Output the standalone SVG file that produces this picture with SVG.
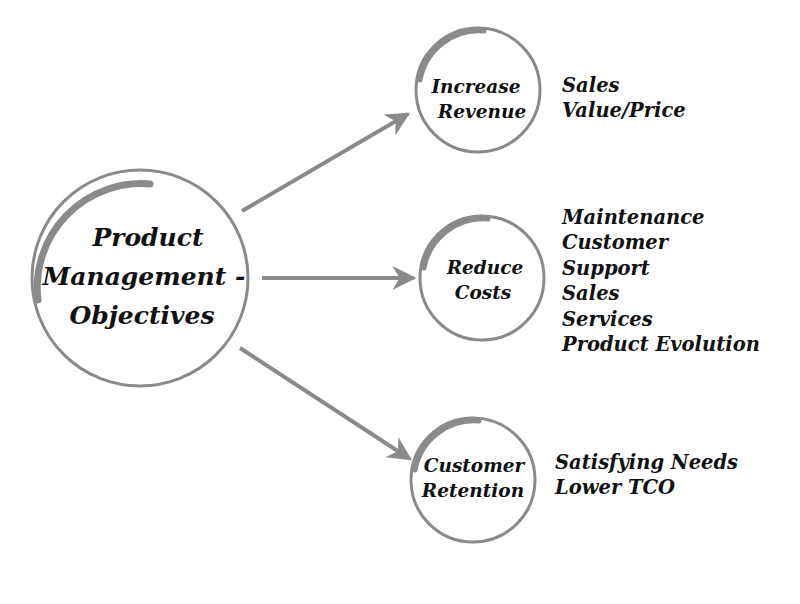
<svg xmlns="http://www.w3.org/2000/svg" width="800" height="604" viewBox="0 0 800 604">
<style>
.ring{fill:none;stroke:#8a8a8a;stroke-width:3}
.arc{fill:none;stroke:#8a8a8a;stroke-linecap:round}
.t{font-family:"DejaVu Serif",serif;font-style:italic;font-weight:bold;fill:#111}
.c{stroke:#8a8a8a;stroke-width:4;fill:none}
</style>
<defs>
<marker id="ah" viewBox="0 0 10 10" refX="9" refY="5" markerWidth="7" markerHeight="6" orient="auto" markerUnits="strokeWidth">
<path d="M0,0 L10,5 L0,10 L3,5 Z" fill="#8a8a8a"/>
</marker>
</defs>
<rect width="800" height="604" fill="#fff"/>
<g id="connectors">
<line class="c" x1="242" y1="211" x2="408" y2="114" marker-end="url(#ah)"/>
<line class="c" x1="262" y1="278" x2="414" y2="278" marker-end="url(#ah)"/>
<line class="c" x1="240" y1="348" x2="410" y2="459" marker-end="url(#ah)"/>
</g>
<g id="main">
<circle class="ring" cx="140" cy="278" r="108"/>
<path class="arc" stroke-width="7" d="M38,300 A104,104 0 0 1 150,184"/>
<text class="t" font-size="25" text-anchor="middle"><tspan x="148" y="246">Product</tspan><tspan x="144" y="285">Management -</tspan><tspan x="142" y="324">Objectives</tspan></text>
</g>
<g id="revenue">
<circle class="ring" cx="478" cy="90" r="62"/>
<path class="arc" stroke-width="5" d="M420,80 A60,60 0 0 1 484,31"/>
<text class="t" font-size="18.5" text-anchor="middle"><tspan x="476" y="93">Increase</tspan><tspan x="482" y="118">Revenue</tspan></text>
<text class="t" font-size="19.5"><tspan x="562" y="92">Sales</tspan><tspan x="562" y="117">Value/Price</tspan></text>
</g>
<g id="costs">
<circle class="ring" cx="482" cy="278" r="62"/>
<path class="arc" stroke-width="5" d="M424,268 A60,60 0 0 1 488,219"/>
<text class="t" font-size="18.5" text-anchor="middle"><tspan x="485" y="274">Reduce</tspan><tspan x="483" y="299">Costs</tspan></text>
<text class="t" font-size="19.5"><tspan x="562" y="224">Maintenance</tspan><tspan x="562" y="249">Customer</tspan><tspan x="562" y="275">Support</tspan><tspan x="562" y="300">Sales</tspan><tspan x="562" y="326">Services</tspan><tspan x="562" y="351">Product Evolution</tspan></text>
</g>
<g id="retention">
<circle class="ring" cx="473" cy="480" r="62"/>
<path class="arc" stroke-width="5" d="M415,470 A60,60 0 0 1 479,421"/>
<text class="t" font-size="18.5" text-anchor="middle"><tspan x="474" y="472">Customer</tspan><tspan x="473" y="497">Retention</tspan></text>
<text class="t" font-size="19.5"><tspan x="555" y="469">Satisfying Needs</tspan><tspan x="555" y="494">Lower TCO</tspan></text>
</g>
</svg>
